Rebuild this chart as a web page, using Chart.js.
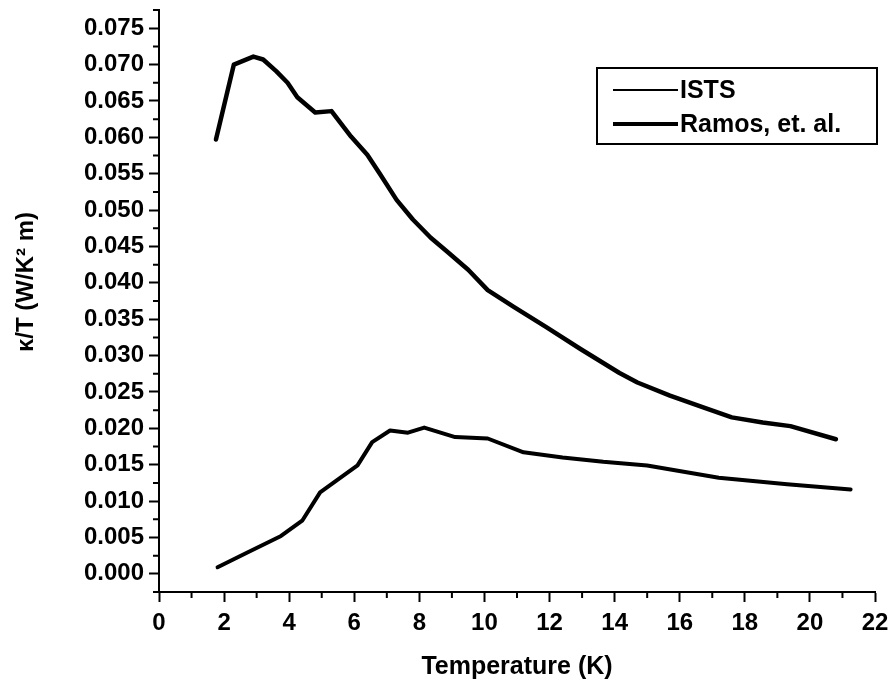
<!DOCTYPE html>
<html>
<head>
<meta charset="utf-8">
<script src="https://cdn.jsdelivr.net/npm/chart.js@4.4.1/dist/chart.umd.min.js"></script>
<style>
    html, body { margin: 0; background: #fff; }
</style>
</head>
<body>
<canvas id="myChart" width="892" height="686"></canvas>
<script>
// kappa/T against temperature, two measurements
const istsTemp = [1.8, 2.7, 3.75, 4.4, 4.95, 5.45, 6.1, 6.55, 7.1, 7.65, 8.15, 9.1, 10.1, 11.2, 12.4, 13.65, 15.0, 17.2, 19.3, 21.25]
const istsKappa = [0.0009, 0.0029, 0.0052, 0.0073, 0.0112, 0.0128, 0.0149, 0.0181, 0.0197, 0.0194, 0.0201, 0.0188, 0.0186, 0.0167, 0.0160, 0.0154, 0.0149, 0.0132, 0.0123, 0.0116]

const ramosTemp = [1.75, 2.3, 2.9, 3.2, 3.6, 3.95, 4.25, 4.8, 5.3, 5.9, 6.4, 6.8, 7.3, 7.8, 8.35, 8.85, 9.5, 10.1, 10.9, 11.9, 12.95, 14.15, 14.7, 15.7, 16.7, 17.6, 18.55, 19.4, 20.8]
const ramosKappa = [0.0597, 0.0700, 0.0711, 0.0707, 0.0691, 0.0675, 0.0655, 0.0634, 0.0636, 0.0601, 0.0576, 0.0549, 0.0514, 0.0487, 0.0462, 0.0443, 0.0418, 0.0390, 0.0367, 0.0339, 0.0309, 0.0276, 0.0263, 0.0245, 0.0229, 0.0215, 0.0208, 0.0203, 0.0185]

const xTicks = [0, 2, 4, 6, 8, 10, 12, 14, 16, 18, 20, 22]
const xMinor = [1, 3, 5, 7, 9, 11, 13, 15, 17, 19, 21]
const yTicks = [0, 0.005, 0.01, 0.015, 0.02, 0.025, 0.03, 0.035, 0.04, 0.045, 0.05, 0.055, 0.06, 0.065, 0.07, 0.075]
const yMinor = [-0.0025, 0.0025, 0.0075, 0.0125, 0.0175, 0.0225, 0.0275, 0.0325, 0.0375, 0.0425, 0.0475, 0.0525, 0.0575, 0.0625, 0.0675, 0.0725, 0.0775]

const FONT = '"Liberation Sans", Arial, Helvetica, sans-serif'

const ctx = document.getElementById("myChart").getContext("2d")

const toPoints = (xs, ys) => xs.map((x, i) => ({ x: x, y: ys[i] }))

// short outward ticks between the labelled ones
const minorTicks = {
    id: "minorTicks",
    afterDraw(chart) {
        const c = chart.ctx
        const x = chart.scales.x
        const y = chart.scales.y
        c.save()
        c.strokeStyle = "#000"
        c.lineWidth = 2
        c.beginPath()
        xMinor.forEach(v => {
            const px = x.getPixelForValue(v)
            c.moveTo(px, x.top)
            c.lineTo(px, x.top + 6)
        })
        yMinor.forEach(v => {
            const py = y.getPixelForValue(v)
            c.moveTo(y.right, py)
            c.lineTo(y.right - 6, py)
        })
        c.stroke()
        c.restore()
    }
}

// boxed legend in the upper right, plus the rotated y title
const boxLegend = {
    id: "boxLegend",
    afterDraw(chart, args, opts) {
        const c = chart.ctx
        const area = chart.chartArea
        const left = area.right - 278
        const top = area.top + 58
        c.save()
        c.strokeStyle = "#000"
        c.lineWidth = 2
        c.strokeRect(left, top, 280, 76)
        c.font = "bold 25px " + FONT
        c.fillStyle = "#000"
        c.textBaseline = "middle"
        opts.order.forEach((idx, row) => {
            const ds = chart.data.datasets[idx]
            const cy = top + 22 + row * 34
            c.lineWidth = opts.lineWidths[idx]
            c.beginPath()
            c.moveTo(left + 16, cy)
            c.lineTo(left + 81, cy)
            c.stroke()
            c.fillText(ds.label, left + 83, cy + 1)
        })

        c.translate(26, (area.top + area.bottom) / 2 - 19)
        c.rotate(-Math.PI / 2)
        c.textAlign = "center"
        c.font = "bold 24px " + FONT
        c.fillText("κ/T (W/K² m)", 0, 0)
        c.restore()
    }
}

new Chart(ctx, {
    type: "scatter",
    data: {
        datasets: [{
            label: "Ramos, et. al.",
            data: toPoints(ramosTemp, ramosKappa),
            showLine: true,
            borderColor: "#000",
            borderWidth: 4.5,
            pointRadius: 0,
            borderJoinStyle: "round",
            borderCapStyle: "round"
        }, {
            label: "ISTS",
            data: toPoints(istsTemp, istsKappa),
            showLine: true,
            borderColor: "#000",
            borderWidth: 4,
            pointRadius: 0,
            borderJoinStyle: "round",
            borderCapStyle: "round"
        }]
    },
    options: {
        responsive: false,
        animation: false,
        layout: { padding: { top: 10, right: 17, left: 0, bottom: 0 } },
        plugins: {
            legend: { display: false },
            tooltip: { enabled: false },
            boxLegend: { order: [1, 0], lineWidths: [4, 2] }
        },
        scales: {
            x: {
                type: "linear",
                min: 0,
                max: 22,
                afterFit: scale => {
                    scale.height = 94
                    scale.paddingLeft = 0
                    scale.paddingRight = 0
                },
                afterBuildTicks: scale => { scale.ticks = xTicks.map(v => ({ value: v })) },
                grid: { drawOnChartArea: false, drawTicks: true, tickLength: 10, tickWidth: 2, tickColor: "#000" },
                border: { display: true, color: "#000", width: 2 },
                ticks: { color: "#000", padding: 7, maxRotation: 0, font: { family: FONT, size: 24, weight: "bold" } },
                title: { display: true, text: "Temperature (K)", color: "#000", padding: { top: 0, bottom: 4 }, font: { family: FONT, size: 25, weight: "bold" } }
            },
            y: {
                type: "linear",
                min: -0.0025,
                max: 0.0775,
                afterFit: scale => {
                    scale.width = 159
                    scale.paddingTop = 0
                    scale.paddingBottom = 0
                },
                afterBuildTicks: scale => { scale.ticks = yTicks.map(v => ({ value: v })) },
                grid: { drawOnChartArea: false, drawTicks: true, tickLength: 10, tickWidth: 2, tickColor: "#000" },
                border: { display: true, color: "#000", width: 2 },
                ticks: { color: "#000", padding: 5, callback: v => v.toFixed(3), font: { family: FONT, size: 24, weight: "bold" } }
            }
        }
    },
    plugins: [minorTicks, boxLegend]
})
</script>
</body>
</html>
